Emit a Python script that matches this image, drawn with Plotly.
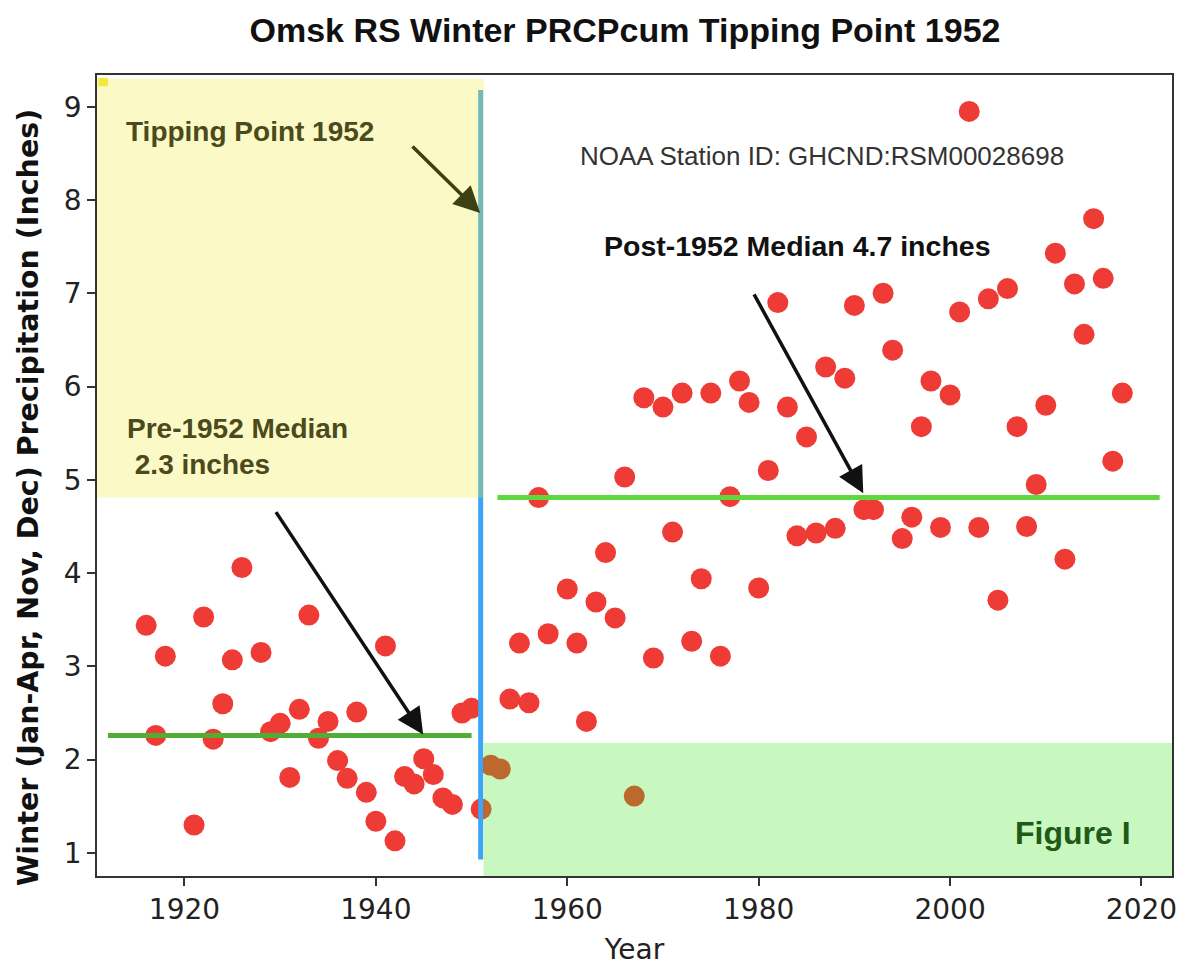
import plotly.graph_objects as go

# Winter precipitation (inches) by year
years = [1916, 1917, 1918, 1921, 1922, 1923, 1924, 1925, 1926, 1928, 1929, 1930,
         1931, 1932, 1933, 1934, 1935, 1936, 1937, 1938, 1939, 1940, 1941, 1942,
         1943, 1944, 1945, 1946, 1947, 1948, 1949, 1950, 1951,
         1952, 1953, 1954, 1955, 1956, 1957, 1958, 1960, 1961, 1962, 1963, 1964,
         1965, 1966, 1967, 1968, 1969, 1970, 1971, 1972, 1973, 1974, 1975, 1976,
         1977, 1978, 1979, 1980, 1981, 1982, 1983, 1984, 1985, 1986, 1987, 1988,
         1989, 1990, 1991, 1992, 1993, 1994, 1995, 1996, 1997, 1998, 1999, 2000,
         2001, 2002, 2003, 2004, 2005, 2006, 2007, 2008, 2009, 2010, 2011, 2012,
         2013, 2014, 2015, 2016, 2017, 2018]
precip = [3.44, 2.26, 3.11, 1.30, 3.53, 2.22, 2.60, 3.07, 4.06, 3.15, 2.30, 2.39,
          1.81, 2.54, 3.55, 2.23, 2.41, 1.99, 1.80, 2.51, 1.65, 1.34, 3.22, 1.13,
          1.82, 1.74, 2.01, 1.84, 1.59, 1.52, 2.50, 2.55, 1.47,
          1.94, 1.90, 2.65, 3.25, 2.61, 4.81, 3.35, 3.83, 3.25, 2.41, 3.69, 4.22,
          3.52, 5.03, 1.61, 5.88, 3.09, 5.78, 4.44, 5.93, 3.27, 3.94, 5.93, 3.11,
          4.82, 6.06, 5.83, 3.84, 5.10, 6.90, 5.78, 4.40, 5.46, 4.43, 6.21, 4.48,
          6.09, 6.87, 4.68, 4.68, 7.00, 6.39, 4.37, 4.60, 5.57, 6.06, 4.49, 5.91,
          6.80, 8.95, 4.49, 6.94, 3.71, 7.05, 5.57, 4.50, 4.95, 5.80, 7.43, 4.15,
          7.10, 6.56, 7.80, 7.16, 5.20, 5.93]

tipping_year = 1951
pre_median_value = 2.26
post_median_value = 4.81
x_ticks = [1920, 1940, 1960, 1980, 2000, 2020]
y_ticks = [1, 2, 3, 4, 5, 6, 7, 8, 9]

x_range = [1910.86, 2023.19]
y_range = [0.753, 9.34]

ARIAL = "Liberation Sans, Arial, Helvetica, sans-serif"
DEJAVU = "DejaVu Sans, sans-serif"
OLIVE = "#4a4a1c"

fig = go.Figure()

fig.add_trace(go.Scatter(
    x=years, y=precip, mode="markers",
    marker=dict(size=21, color="#ee3b35", line=dict(width=0)),
    showlegend=False, hoverinfo="x+y",
))

# median lines sit on top of the dots
fig.add_trace(go.Scatter(
    x=[1912.0, 1950.0], y=[pre_median_value] * 2, mode="lines",
    line=dict(color="#4fae33", width=5), showlegend=False, hoverinfo="skip",
))
fig.add_trace(go.Scatter(
    x=[1952.7, 2021.9], y=[post_median_value] * 2, mode="lines",
    line=dict(color="#5fd83f", width=5), showlegend=False, hoverinfo="skip",
))

shapes = [
    # tipping point marker line
    dict(type="line", xref="x", yref="y", x0=tipping_year - 0.05, x1=tipping_year - 0.05,
         y0=0.93, y1=9.18, line=dict(color="#3da5f5", width=5), layer="above"),
    # translucent yellow block (pre-1952, above the post median)
    dict(type="rect", xref="x", yref="y", x0=x_range[0], x1=1951.3,
         y0=post_median_value, y1=9.30, fillcolor="rgb(241,235,62)", opacity=0.3,
         line=dict(width=0), layer="above"),
    dict(type="rect", xref="x", yref="y", x0=1911.0, x1=1912.0,
         y0=9.22, y1=9.31, fillcolor="#f6e83a", line=dict(width=0), layer="above"),
    # translucent green block (post-1952, low values)
    dict(type="rect", xref="x", yref="y", x0=1951.25, x1=x_range[1],
         y0=y_range[0], y1=2.18, fillcolor="rgb(58,226,30)", opacity=0.28,
         line=dict(width=0), layer="above"),
]

annotations = [
    # arrows
    dict(x=1950.9, y=7.86, ax=1943.67, ay=8.59, xref="x", yref="y", axref="x", ayref="y",
         text="", showarrow=True, arrowhead=2, arrowsize=1.5, arrowwidth=3.5, arrowcolor="#3c4012"),
    dict(x=1944.94, y=2.27, ax=1929.46, ay=4.67, xref="x", yref="y", axref="x", ayref="y",
         text="", showarrow=True, arrowhead=2, arrowsize=1.5, arrowwidth=3.5, arrowcolor="#111111"),
    dict(x=1990.93, y=4.855, ax=1979.43, ay=7.005, xref="x", yref="y", axref="x", ayref="y",
         text="", showarrow=True, arrowhead=2, arrowsize=1.5, arrowwidth=3.5, arrowcolor="#111111"),
    # labels
    dict(x=1913.68, y=8.73, xref="x", yref="y", xanchor="left", yanchor="middle",
         text="<b>Tipping Point 1952</b>", showarrow=False,
         font=dict(family=ARIAL, size=28, color=OLIVE)),
    dict(x=1961.12, y=8.47, xref="x", yref="y", xanchor="left", yanchor="middle",
         text="NOAA Station ID: GHCND:RSM00028698", showarrow=False,
         font=dict(family=ARIAL, size=26, color="#333333")),
    dict(x=1963.63, y=7.506, xref="x", yref="y", xanchor="left", yanchor="middle",
         text="<b>Post-1952 Median 4.7 inches</b>", showarrow=False,
         font=dict(family=ARIAL, size=28.5, color="#111111")),
    dict(x=1913.78, y=5.36, xref="x", yref="y", xanchor="left", yanchor="middle", align="left",
         text="<b>Pre-1952 Median<br> 2.3 inches</b>", showarrow=False,
         font=dict(family=ARIAL, size=28, color=OLIVE)),
    dict(x=2006.57, y=1.214, xref="x", yref="y", xanchor="left", yanchor="middle",
         text="<b>Figure I</b>", showarrow=False,
         font=dict(family=ARIAL, size=32, color="#1f5a16")),
    # y axis title
    dict(x=-0.0642, y=0.473, xref="paper", yref="paper", xanchor="center", yanchor="middle",
         text="<b>Winter (Jan-Apr, Nov, Dec) Precipitation (Inches)</b>", textangle=-90,
         showarrow=False, font=dict(family=DEJAVU, size=28.5, color="#111111")),
]

# the page adds an 8px body margin, so the figure margins are trimmed by that much
fig.update_layout(
    width=1187, height=965,
    margin=dict(l=89, r=23, t=67, b=97),
    paper_bgcolor="white", plot_bgcolor="white",
    title=dict(text="<b>Omsk RS Winter PRCPcum Tipping Point 1952</b>",
               x=0.5198, y=0.9772, xanchor="center", yanchor="middle",
               font=dict(family=ARIAL, size=34, color="#111111")),
    shapes=shapes, annotations=annotations,
    showlegend=False,
)

axis_style = dict(showgrid=False, zeroline=False, showline=True, linecolor="#333333",
                  linewidth=1.5, mirror=True, ticks="outside", ticklen=8, tickwidth=1.5,
                  tickcolor="#333333", tickfont=dict(family=DEJAVU, size=28, color="#222222"))

fig.update_xaxes(range=x_range, tickvals=x_ticks, **axis_style,
                 title=dict(text="Year", font=dict(family=DEJAVU, size=28, color="#222222"),
                            standoff=14))
fig.update_yaxes(range=y_range, tickvals=y_ticks, **axis_style)

fig.write_html("out.html")
